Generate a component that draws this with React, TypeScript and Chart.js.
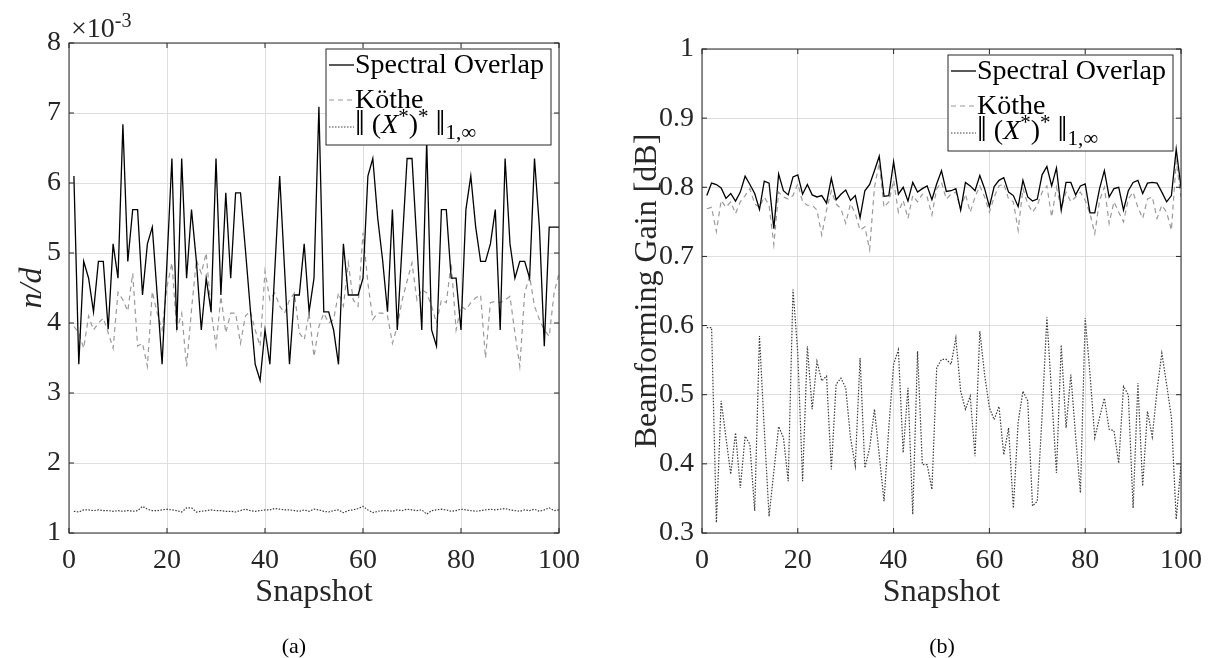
import React, { useEffect, useRef } from "react";
import { Chart, registerables } from "chart.js";

Chart.register(...registerables);

// ---------------- data ----------------
const SNAPSHOTS = [
  1, 2, 3, 4, 5, 6, 7, 8, 9, 10, 11, 12, 13, 14, 15, 16, 17, 18, 19, 20,
  21, 22, 23, 24, 25, 26, 27, 28, 29, 30, 31, 32, 33, 34, 35, 36, 37, 38, 39, 40,
  41, 42, 43, 44, 45, 46, 47, 48, 49, 50, 51, 52, 53, 54, 55, 56, 57, 58, 59, 60,
  61, 62, 63, 64, 65, 66, 67, 68, 69, 70, 71, 72, 73, 74, 75, 76, 77, 78, 79, 80,
  81, 82, 83, 84, 85, 86, 87, 88, 89, 90, 91, 92, 93, 94, 95, 96, 97, 98, 99, 100,
];

const SERIES_NAMES = ["Spectral Overlap", "Köthe", "norm"];

// (a) n/d, in units of 1e-3
const ND_SPECTRAL = [
  6.10, 3.41, 4.88, 4.64, 4.16, 4.88, 4.88, 3.91, 5.13, 4.64,
  6.84, 4.88, 5.62, 5.62, 4.40, 5.13, 5.37, 4.40, 3.41, 4.88,
  6.35, 3.90, 6.35, 4.64, 5.62, 4.88, 3.90, 4.64, 4.16, 6.35,
  4.40, 5.86, 4.64, 5.86, 5.86, 5.05, 4.20, 3.41, 3.18, 3.90,
  3.41, 4.76, 6.10, 4.76, 3.41, 4.40, 4.40, 5.13, 4.16, 4.64,
  7.09, 4.16, 4.16, 3.90, 3.41, 5.13, 4.40, 4.40, 4.40, 4.64,
  6.10, 6.35, 5.50, 4.90, 4.16, 5.62, 3.90, 5.13, 6.35, 6.35,
  5.14, 3.90, 6.60, 3.90, 3.67, 5.62, 5.62, 4.64, 4.64, 3.90,
  5.62, 6.10, 5.37, 4.88, 4.88, 5.13, 5.62, 3.90, 6.35, 5.13,
  4.64, 4.88, 4.88, 4.64, 6.35, 5.37, 3.67, 5.37, 5.37, 5.37,
];
const ND_KOTHE = [
  3.95, 3.86, 3.64, 4.10, 3.90, 4.00, 4.07, 3.86, 3.64, 4.44,
  4.33, 4.17, 4.71, 3.67, 3.71, 3.38, 4.45, 4.14, 3.90, 4.52,
  4.86, 3.90, 4.14, 3.38, 4.19, 4.90, 4.71, 5.00, 4.17, 3.67,
  4.38, 3.86, 4.14, 4.14, 3.71, 4.10, 4.17, 3.90, 3.67, 4.74,
  4.33, 4.43, 4.24, 4.14, 4.33, 4.43, 3.86, 3.76, 4.14, 3.52,
  3.95, 4.14, 4.00, 4.05, 4.43, 4.24, 4.86, 4.33, 4.24, 5.29,
  4.57, 4.05, 4.14, 4.14, 4.10, 3.71, 3.95, 4.33, 4.60, 4.86,
  4.33, 4.48, 4.43, 4.24, 4.00, 4.33, 4.29, 4.86, 3.90, 4.24,
  4.19, 4.29, 4.36, 4.40, 3.50, 4.29, 4.31, 4.29, 4.33, 4.38,
  3.86, 3.38, 4.43, 4.67, 4.24, 4.05, 3.90, 3.81, 4.43, 4.71,
];
const ND_NORM = [
  1.31, 1.30, 1.33, 1.33, 1.32, 1.33, 1.32, 1.32, 1.31, 1.32,
  1.31, 1.32, 1.31, 1.32, 1.38, 1.34, 1.32, 1.32, 1.33, 1.34,
  1.33, 1.32, 1.30, 1.36, 1.36, 1.30, 1.31, 1.32, 1.33, 1.32,
  1.32, 1.31, 1.31, 1.30, 1.32, 1.34, 1.32, 1.31, 1.32, 1.33,
  1.33, 1.35, 1.34, 1.33, 1.33, 1.32, 1.31, 1.33, 1.31, 1.34,
  1.33, 1.31, 1.30, 1.32, 1.33, 1.29, 1.32, 1.33, 1.35, 1.38,
  1.33, 1.29, 1.31, 1.32, 1.32, 1.31, 1.33, 1.32, 1.34, 1.33,
  1.32, 1.33, 1.27, 1.32, 1.33, 1.34, 1.33, 1.31, 1.32, 1.34,
  1.33, 1.32, 1.31, 1.32, 1.33, 1.34, 1.33, 1.34, 1.35, 1.33,
  1.32, 1.31, 1.33, 1.32, 1.34, 1.31, 1.33, 1.36, 1.32, 1.33,
];

// (b) beamforming gain [dB]
const BF_SPECTRAL = [
  0.788, 0.806, 0.804, 0.799, 0.784, 0.791, 0.780, 0.793, 0.816, 0.804,
  0.791, 0.768, 0.809, 0.806, 0.740, 0.819, 0.795, 0.789, 0.815, 0.818,
  0.790, 0.804, 0.789, 0.786, 0.788, 0.777, 0.813, 0.782, 0.790, 0.796,
  0.781, 0.788, 0.756, 0.795, 0.804, 0.824, 0.845, 0.787, 0.788, 0.837,
  0.790, 0.800, 0.780, 0.807, 0.793, 0.798, 0.802, 0.782, 0.805, 0.824,
  0.794, 0.795, 0.798, 0.767, 0.807, 0.802, 0.795, 0.817, 0.798, 0.772,
  0.801, 0.810, 0.814, 0.793, 0.788, 0.772, 0.810, 0.786, 0.780, 0.783,
  0.818, 0.830, 0.802, 0.828, 0.767, 0.807, 0.807, 0.789, 0.802, 0.805,
  0.763, 0.763, 0.798, 0.824, 0.786, 0.798, 0.800, 0.767, 0.795, 0.807,
  0.810, 0.791, 0.806, 0.807, 0.806, 0.793, 0.779, 0.788, 0.855, 0.800,
];
const BF_KOTHE = [
  0.769, 0.771, 0.736, 0.781, 0.771, 0.779, 0.762, 0.779, 0.788, 0.798,
  0.776, 0.771, 0.786, 0.774, 0.717, 0.793, 0.786, 0.783, 0.788, 0.805,
  0.779, 0.774, 0.774, 0.767, 0.731, 0.767, 0.795, 0.776, 0.769, 0.748,
  0.776, 0.762, 0.738, 0.743, 0.710, 0.800, 0.835, 0.771, 0.779, 0.810,
  0.764, 0.781, 0.755, 0.788, 0.779, 0.790, 0.786, 0.760, 0.798, 0.807,
  0.783, 0.790, 0.793, 0.769, 0.790, 0.764, 0.786, 0.802, 0.786, 0.764,
  0.786, 0.802, 0.805, 0.783, 0.779, 0.738, 0.798, 0.776, 0.764, 0.774,
  0.793, 0.802, 0.757, 0.800, 0.769, 0.793, 0.779, 0.786, 0.793, 0.781,
  0.762, 0.733, 0.781, 0.800, 0.748, 0.779, 0.764, 0.750, 0.783, 0.793,
  0.771, 0.755, 0.783, 0.786, 0.755, 0.774, 0.764, 0.738, 0.838, 0.786,
];
const BF_NORM = [
  0.597, 0.597, 0.315, 0.491, 0.438, 0.385, 0.445, 0.365, 0.440, 0.428,
  0.332, 0.585, 0.450, 0.324, 0.389, 0.454, 0.438, 0.375, 0.652, 0.560,
  0.375, 0.570, 0.479, 0.548, 0.520, 0.527, 0.392, 0.515, 0.524, 0.510,
  0.438, 0.397, 0.553, 0.394, 0.423, 0.479, 0.413, 0.346, 0.452, 0.544,
  0.565, 0.416, 0.510, 0.327, 0.563, 0.399, 0.399, 0.363, 0.539, 0.551,
  0.551, 0.544, 0.582, 0.505, 0.479, 0.498, 0.411, 0.592, 0.529, 0.481,
  0.464, 0.483, 0.413, 0.452, 0.336, 0.460, 0.505, 0.491, 0.339, 0.346,
  0.470, 0.612, 0.500, 0.387, 0.572, 0.452, 0.529, 0.440, 0.358, 0.611,
  0.530, 0.438, 0.467, 0.495, 0.450, 0.448, 0.401, 0.512, 0.500, 0.336,
  0.517, 0.368, 0.476, 0.439, 0.507, 0.560, 0.515, 0.467, 0.320, 0.399,
];

const X_TICKS = [0, 20, 40, 60, 80, 100];
const ND_TICKS = [1, 2, 3, 4, 5, 6, 7, 8];
const BF_TICKS = [0.3, 0.4, 0.5, 0.6, 0.7, 0.8, 0.9, 1.0];

// ---------------- styling ----------------
const SERIF = "'Liberation Serif', 'Times New Roman', 'DejaVu Serif', serif";
const AX = "#262626";
const GRID = "#dedede";
const STYLES = [
  { color: "#000000", width: 1.3, dash: [] as number[] },
  { color: "#9a9a9a", width: 1.2, dash: [5, 4] },
  { color: "#3c3c3c", width: 1.2, dash: [1.5, 1.5] },
];

function drawNormLabel(ctx: CanvasRenderingContext2D, x: number, base: number, size: number) {
  const small = Math.round(size * 0.74);
  const bar = Math.round(size * 1.25);
  const parts = [
    { t: "\u2016", f: `${bar}px ${SERIF}`, dy: size * 0.06 },
    { t: " (", f: `${size}px ${SERIF}`, dy: 0 },
    { t: "X", f: `italic ${size}px ${SERIF}`, dy: 0 },
    { t: "*", f: `${small}px ${SERIF}`, dy: -size * 0.34 },
    { t: ")", f: `${size}px ${SERIF}`, dy: 0 },
    { t: "*", f: `${small}px ${SERIF}`, dy: -size * 0.34 },
    { t: " ", f: `${size}px ${SERIF}`, dy: 0 },
    { t: "\u2016", f: `${bar}px ${SERIF}`, dy: size * 0.06 },
    { t: "1,\u221E", f: `${small}px ${SERIF}`, dy: size * 0.2 },
  ];
  let cx = x;
  for (const p of parts) {
    ctx.font = p.f;
    ctx.fillText(p.t, cx, base + p.dy);
    cx += ctx.measureText(p.t).width;
  }
}

const framePlugin = {
  id: "matlabFrame",
  afterDatasetsDraw(chart: any, _args: any, opts: any) {
    const { ctx, chartArea: a, scales } = chart;
    ctx.save();
    // box + inner ticks
    ctx.strokeStyle = AX;
    ctx.lineWidth = 1;
    ctx.setLineDash([]);
    ctx.strokeRect(a.left, a.top, a.right - a.left, a.bottom - a.top);
    const tl = 5;
    ctx.beginPath();
    for (const v of X_TICKS) {
      const px = scales.x.getPixelForValue(v);
      ctx.moveTo(px, a.bottom);
      ctx.lineTo(px, a.bottom - tl);
      ctx.moveTo(px, a.top);
      ctx.lineTo(px, a.top + tl);
    }
    for (const v of opts.yTicks as number[]) {
      const py = scales.y.getPixelForValue(v);
      ctx.moveTo(a.left, py);
      ctx.lineTo(a.left + tl, py);
      ctx.moveTo(a.right, py);
      ctx.lineTo(a.right - tl, py);
    }
    ctx.stroke();

    // exponent label
    if (opts.exponent) {
      ctx.fillStyle = AX;
      ctx.textBaseline = "alphabetic";
      ctx.textAlign = "left";
      ctx.font = `28px ${SERIF}`;
      ctx.fillText("\u00D710", a.left + 2, a.top - 6);
      const w = ctx.measureText("\u00D710").width;
      ctx.font = `20px ${SERIF}`;
      ctx.fillText("-3", a.left + 2 + w, a.top - 16);
    }

    // legend
    const bw = 225;
    const bh = 96;
    const bx = a.right - 8 - bw;
    const by = a.top + 6;
    ctx.fillStyle = "#ffffff";
    ctx.fillRect(bx, by, bw, bh);
    ctx.strokeStyle = AX;
    ctx.lineWidth = 1;
    ctx.strokeRect(bx, by, bw, bh);
    const sampleY = [16, 51, 78];
    const baseY = [24, 59, 84];
    const size = 28;
    for (let i = 0; i < 3; i++) {
      const s = STYLES[i];
      ctx.beginPath();
      ctx.strokeStyle = s.color;
      ctx.lineWidth = s.width;
      ctx.setLineDash(s.dash);
      ctx.moveTo(bx + 3, by + sampleY[i]);
      ctx.lineTo(bx + 28, by + sampleY[i]);
      ctx.stroke();
      ctx.setLineDash([]);
      ctx.fillStyle = "#000000";
      ctx.textAlign = "left";
      ctx.textBaseline = "alphabetic";
      if (i < 2) {
        ctx.font = `${size}px ${SERIF}`;
        ctx.fillText(SERIES_NAMES[i], bx + 29, by + baseY[i]);
      } else {
        drawNormLabel(ctx, bx + 29, by + baseY[i], size);
      }
    }
    ctx.restore();
  },
};

function makeDatasets(series: number[][]) {
  return series.map((vals, i) => ({
    label: SERIES_NAMES[i],
    data: SNAPSHOTS.map((s, k) => ({ x: s, y: vals[k] })),
    borderColor: STYLES[i].color,
    borderWidth: STYLES[i].width,
    borderDash: STYLES[i].dash,
    pointRadius: 0,
    tension: 0,
    fill: false,
  }));
}

type PanelProps = {
  width: number;
  height: number;
  series: number[][];
  yMin: number;
  yMax: number;
  yTicks: number[];
  yTitle: string;
  yTitleItalic: boolean;
  yTitlePad: number;
  yAxisWidth: number;
  padTop: number;
  padRight: number;
  exponent: boolean;
  yFormat: (v: number) => string;
};

function Panel(p: PanelProps) {
  const ref = useRef<HTMLCanvasElement | null>(null);
  useEffect(() => {
    if (!ref.current) return;
    const chart = new Chart(ref.current, {
      type: "line",
      data: { datasets: makeDatasets(p.series) as any },
      plugins: [framePlugin],
      options: {
        animation: false,
        responsive: false,
        devicePixelRatio: 1,
        layout: { padding: { left: 0, right: p.padRight, top: p.padTop, bottom: 0 } },
        plugins: {
          legend: { display: false },
          tooltip: { enabled: false },
          matlabFrame: { yTicks: p.yTicks, exponent: p.exponent },
        } as any,
        scales: {
          x: {
            type: "linear",
            min: 0,
            max: 100,
            afterBuildTicks: (s: any) => {
              s.ticks = X_TICKS.map((v) => ({ value: v }));
            },
            afterFit: (s: any) => {
              s.height = 125;
            },
            ticks: {
              font: { family: SERIF, size: 28 },
              color: AX,
              padding: 11,
              maxRotation: 0,
              autoSkip: false,
            },
            grid: { color: GRID, drawTicks: false, lineWidth: 1 },
            border: { display: false },
            title: {
              display: true,
              text: "Snapshot",
              color: AX,
              font: { family: SERIF, size: 32, lineHeight: 1 },
              padding: { top: 0, bottom: 49 },
            },
          },
          y: {
            type: "linear",
            min: p.yMin,
            max: p.yMax,
            afterBuildTicks: (s: any) => {
              s.ticks = p.yTicks.map((v) => ({ value: v }));
            },
            afterFit: (s: any) => {
              s.width = p.yAxisWidth;
            },
            ticks: {
              font: { family: SERIF, size: 28 },
              color: AX,
              padding: 8,
              autoSkip: false,
              callback: (v: any) => p.yFormat(Number(v)),
            },
            grid: { color: GRID, drawTicks: false, lineWidth: 1 },
            border: { display: false },
            title: {
              display: true,
              text: p.yTitle,
              color: AX,
              font: {
                family: SERIF,
                size: 32,
                lineHeight: 1,
                style: p.yTitleItalic ? "italic" : "normal",
              },
              padding: { top: p.yTitlePad, bottom: 0 },
            },
          },
        },
      },
    });
    return () => chart.destroy();
  }, []);
  return (
    <canvas
      ref={ref}
      width={p.width}
      height={p.height}
      style={{ display: "block", width: p.width, height: p.height }}
    />
  );
}

export default function App() {
  const capStyle: React.CSSProperties = {
    position: "absolute",
    top: 633,
    fontFamily: SERIF,
    fontSize: 22,
    color: "#000",
    width: 60,
    textAlign: "center",
    lineHeight: "26px",
  };
  return (
    <div
      style={{
        position: "absolute",
        left: 0,
        top: 0,
        width: 1213,
        height: 658,
        background: "#ffffff",
        overflow: "hidden",
      }}
    >
      <div style={{ position: "absolute", left: 0, top: 0 }}>
        <Panel
          width={606}
          height={658}
          series={[ND_SPECTRAL, ND_KOTHE, ND_NORM]}
          yMin={1}
          yMax={8}
          yTicks={ND_TICKS}
          yTitle="n/d"
          yTitleItalic={true}
          yTitlePad={17}
          yAxisWidth={69}
          padTop={43}
          padRight={47}
          exponent={true}
          yFormat={(v) => String(Math.round(v))}
        />
      </div>
      <div style={{ position: "absolute", left: 606, top: 0 }}>
        <Panel
          width={607}
          height={658}
          series={[BF_SPECTRAL, BF_KOTHE, BF_NORM]}
          yMin={0.3}
          yMax={1}
          yTicks={BF_TICKS}
          yTitle="Beamforming Gain [dB]"
          yTitleItalic={false}
          yTitlePad={26}
          yAxisWidth={96}
          padTop={49}
          padRight={27}
          exponent={false}
          yFormat={(v) => (Math.abs(v - 1) < 1e-9 ? "1" : v.toFixed(1))}
        />
      </div>
      <div style={{ ...capStyle, left: 294 - 30 }}>(a)</div>
      <div style={{ ...capStyle, left: 942 - 30 }}>(b)</div>
    </div>
  );
}
